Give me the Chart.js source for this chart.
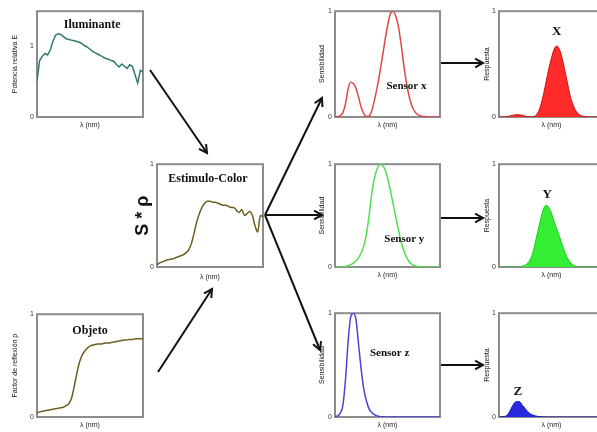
<!DOCTYPE html>
<html><head><meta charset="utf-8">
<script src="https://cdn.jsdelivr.net/npm/chart.js@4/dist/chart.umd.min.js"></script>
<style>
html,body{margin:0;padding:0;width:597px;height:432px;overflow:hidden;background:#fff;position:relative;}
canvas{position:absolute;}
svg{position:absolute;left:0;top:0;pointer-events:none;}
</style></head><body>
<script>
// ---- data (wavelength in nm) ----
const wavelengths = [380,390,400,410,420,430,440,450,460,470,480,490,500,510,520,530,540,550,560,570,580,590,600,610,620,630,640,650,660,670,680,690,700,710,720,730,740,750,760,770,780];
const iluminante = [0.51,0.80,0.86,0.90,0.88,0.95,1.07,1.16,1.18,1.17,1.14,1.11,1.10,1.09,1.08,1.07,1.06,1.04,1.01,0.99,0.96,0.93,0.91,0.89,0.87,0.85,0.83,0.82,0.80,0.79,0.74,0.71,0.75,0.72,0.69,0.74,0.72,0.60,0.48,0.66,0.64];
const objeto = [0.04,0.05,0.055,0.06,0.065,0.07,0.075,0.08,0.085,0.09,0.095,0.11,0.13,0.18,0.29,0.42,0.53,0.60,0.64,0.67,0.69,0.70,0.705,0.71,0.71,0.715,0.72,0.72,0.725,0.73,0.735,0.74,0.745,0.75,0.75,0.755,0.755,0.76,0.76,0.76,0.76];
const estimulo = [0.02,0.04,0.05,0.06,0.07,0.075,0.08,0.09,0.10,0.11,0.12,0.14,0.17,0.23,0.33,0.44,0.52,0.58,0.62,0.64,0.64,0.63,0.63,0.62,0.61,0.60,0.60,0.59,0.58,0.58,0.55,0.53,0.56,0.50,0.52,0.54,0.50,0.40,0.34,0.50,0.49];
const sensorX = [0.001,0.004,0.013,0.041,0.126,0.267,0.328,0.316,0.272,0.183,0.090,0.030,0.005,0.009,0.059,0.155,0.272,0.407,0.558,0.717,0.860,0.970,1.0,0.964,0.875,0.721,0.529,0.356,0.222,0.125,0.066,0.033,0.016,0.008,0.004,0.002,0.001,0,0,0,0];
const sensorY = [0,0,0,0.001,0.004,0.012,0.023,0.038,0.060,0.091,0.139,0.208,0.323,0.503,0.710,0.862,0.954,1.0,0.99,0.952,0.870,0.757,0.631,0.503,0.381,0.265,0.175,0.107,0.061,0.032,0.017,0.008,0.004,0.002,0.001,0,0,0,0,0,0];
const sensorZ = [0.004,0.011,0.037,0.112,0.363,0.727,0.967,1.0,0.937,0.694,0.454,0.263,0.152,0.078,0.044,0.023,0.011,0.005,0.002,0.001,0,0,0,0,0,0,0,0,0,0,0,0,0,0,0,0,0,0,0,0,0];
const respuestaX = [0,0,0.001,0.003,0.008,0.015,0.02,0.022,0.02,0.015,0.008,0.003,0.001,0.002,0.015,0.05,0.12,0.22,0.34,0.46,0.56,0.64,0.67,0.64,0.56,0.45,0.33,0.21,0.13,0.07,0.035,0.015,0.008,0.003,0.001,0,0,0,0,0,0];
const respuestaY = [0,0,0,0,0,0,0,0,0.002,0.008,0.02,0.04,0.08,0.15,0.26,0.37,0.48,0.57,0.60,0.58,0.52,0.44,0.37,0.30,0.22,0.15,0.09,0.05,0.025,0.01,0.003,0,0,0,0,0,0,0,0,0,0];
const respuestaZ = [0,0.002,0.005,0.015,0.05,0.10,0.14,0.15,0.145,0.11,0.08,0.05,0.03,0.018,0.01,0.005,0.002,0.001,0,0,0,0,0,0,0,0,0,0,0,0,0,0,0,0,0,0,0,0,0,0,0];
const yTicks = [0, 1];

// ---- panels (layout & style) ----
const SERIF = '"Liberation Serif","Times New Roman",serif';
const panels = [
  {box:[37,10,106,107], yMax:1.5, vals:iluminante, color:'#2f7a70', yTitle:'Potencia relativa E', yOff:22, title:'Iluminante', tx:0.52, ty:14, tsize:12, tension:false},
  {box:[157,163,106,104], yMax:1, vals:estimulo, color:'#6d5e22', yTitle:'S * \u03c1', yBig:true, yOff:14, xOff:11, title:'Estimulo-Color', tx:0.48, ty:15, tsize:12, tension:true},
  {box:[37,313,106,104], yMax:1, vals:objeto, color:'#6d5e22', yTitle:'Factor de reflexi\u00f3n \u03c1', yOff:22, title:'Objeto', tx:0.5, ty:17, tsize:12, tension:true},
  {box:[335,10,105,107], yMax:1, vals:sensorX, color:'#e04848', yTitle:'Sensibilidad', yOff:13, title:'Sensor x', tx:0.68, ty:75, tsize:11, tension:true},
  {box:[335,163,105,104], yMax:1, vals:sensorY, color:'#4fdf4f', yTitle:'Sensibilidad', yOff:13, title:'Sensor y', tx:0.66, ty:75, tsize:11, tension:true},
  {box:[335,312,105,105], yMax:1, vals:sensorZ, color:'#4646d6', yTitle:'Sensibilidad', yOff:13, title:'Sensor z', tx:0.52, ty:40, tsize:11, tension:true},
  {box:[499,10,105,107], yMax:1, vals:respuestaX, color:'#cc1010', fill:'#ff2a2a', yTitle:'Respuesta', yOff:12, title:'X', tx:0.55, ty:20, tsize:13, tension:true},
  {box:[499,163,105,104], yMax:1, vals:respuestaY, color:'#20c820', fill:'#33ee33', yTitle:'Respuesta', yOff:12, title:'Y', tx:0.46, ty:30, tsize:13, tension:true},
  {box:[499,312,105,105], yMax:1, vals:respuestaZ, color:'#1a1ab0', fill:'#2828e0', yTitle:'Respuesta', yOff:12, title:'Z', tx:0.18, ty:78, tsize:13, tension:true}
];

const boxPlugin = {
  id:'panelbox',
  beforeDatasetsDraw(c){
    const a=c.chartArea, ctx=c.ctx;
    ctx.save(); ctx.strokeStyle='#8c8c8c'; ctx.lineWidth=2;
    ctx.strokeRect(a.left,a.top,a.right-a.left,a.bottom-a.top);
    ctx.restore();
  }
};
const titlePlugin = {
  id:'paneltitle',
  afterDraw(c, args, o){
    if(!o || !o.text) return;
    const a=c.chartArea, ctx=c.ctx;
    ctx.save();
    ctx.font = 'bold ' + o.size + 'px ' + SERIF;
    ctx.fillStyle = '#111'; ctx.textAlign='center'; ctx.textBaseline='middle';
    ctx.fillText(o.text, a.left + o.fx*(a.right-a.left), a.top + o.dy);
    ctx.restore();
  }
};

const L=36, T=6, R=4, B=16;
panels.forEach(p=>{
  const [x,y,w,h] = p.box;
  const cv = document.createElement('canvas');
  cv.width = w+L+R; cv.height = h+T+B;
  cv.style.left = (x-L)+'px'; cv.style.top = (y-T)+'px';
  cv.style.width = cv.width+'px'; cv.style.height = cv.height+'px';
  document.body.appendChild(cv);
  const yFont = p.yBig ? {size:18, weight:'bold', family:'"Liberation Sans",Arial,sans-serif'} : {size:7, family:'"Liberation Sans",Arial,sans-serif'};
  const yLh = yFont.size*1.2;
  const xOff = p.xOff || 9;
  new Chart(cv, {
    type:'line',
    data:{datasets:[{
      data: wavelengths.map((wl,i)=>({x:wl, y:p.vals[i]})),
      borderColor:p.color, borderWidth: p.fill?1:1.5, pointRadius:0,
      fill: p.fill ? 'origin' : false,
      backgroundColor: p.fill || 'transparent',
      tension: p.tension ? 0.4 : 0,
      cubicInterpolationMode: p.tension ? 'monotone' : 'default'
    }]},
    options:{
      responsive:false, animation:false, events:[],
      layout:{padding:{top:T,right:R,left:0,bottom:0}},
      plugins:{legend:{display:false}, tooltip:{enabled:false},
        paneltitle:{text:p.title, fx:p.tx, dy:p.ty, size:p.tsize}},
      scales:{
        x:{type:'linear', min:380, max:780,
          grid:{display:false, drawTicks:false}, border:{display:false},
          ticks:{display:false},
          title:{display:true, text:'\u03bb (nm)', color:'#222', font:{size:7, family:'"Liberation Sans",Arial,sans-serif'}, padding:{top:0, bottom:B - 3.5 - xOff}},
          afterFit:s=>{s.height=B;}},
        y:{type:'linear', min:0, max:p.yMax,
          afterBuildTicks:s=>{s.ticks = yTicks.map(v=>({value:v}));},
          grid:{display:false, drawTicks:false}, border:{display:false},
          ticks:{padding:3, color:'#333', font:{size:7, family:'"Liberation Sans",Arial,sans-serif'}},
          title:{display:true, text:p.yTitle, color:'#111', font:yFont, padding:{top:L - p.yOff - yLh/2, bottom:0}},
          afterFit:s=>{s.width=L;}}
      }
    },
    plugins:[boxPlugin, titlePlugin]
  });
});

// ---- arrows overlay ----
const arrows = [
  [150,70,207,153],[158,372,212,289],
  [265,215,322,98],[265,215,322,215],[265,215,320,350],
  [441,63,483,63],[441,218,483,218],[441,365,483,365]
];
const NS='http://www.w3.org/2000/svg';
const svg=document.createElementNS(NS,'svg');
svg.setAttribute('width','597'); svg.setAttribute('height','432');
arrows.forEach(([x1,y1,x2,y2])=>{
  const ln=document.createElementNS(NS,'line');
  ln.setAttribute('x1',x1);ln.setAttribute('y1',y1);ln.setAttribute('x2',x2);ln.setAttribute('y2',y2);
  ln.setAttribute('stroke','#111');ln.setAttribute('stroke-width','2');
  svg.appendChild(ln);
  const ang=Math.atan2(y2-y1,x2-x1), hl=9, ha=0.5;
  const pts=[[x2-hl*Math.cos(ang-ha), y2-hl*Math.sin(ang-ha)],[x2,y2],[x2-hl*Math.cos(ang+ha), y2-hl*Math.sin(ang+ha)]];
  const pl=document.createElementNS(NS,'polyline');
  pl.setAttribute('points',pts.map(q=>q.join(',')).join(' '));
  pl.setAttribute('fill','none');pl.setAttribute('stroke','#111');pl.setAttribute('stroke-width','2');
  svg.appendChild(pl);
});
document.body.appendChild(svg);
</script>
</body></html>
